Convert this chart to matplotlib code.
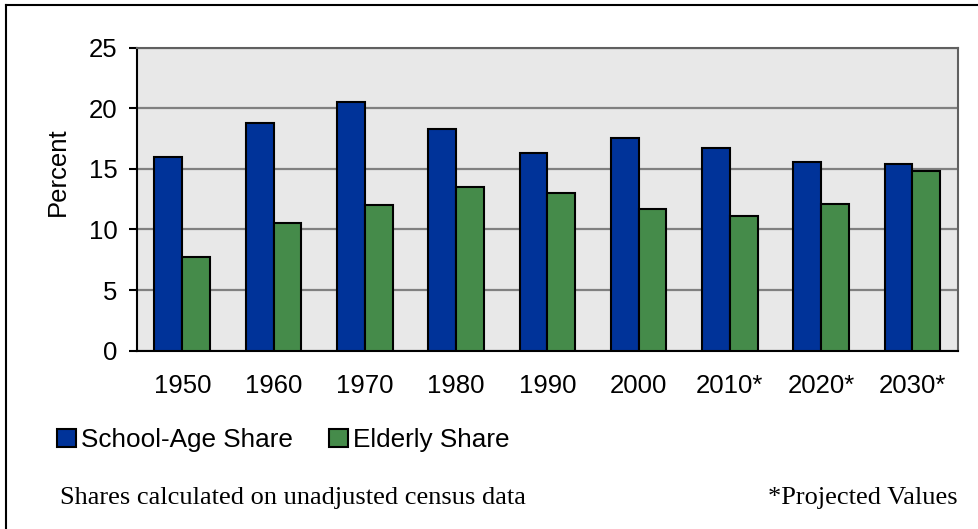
import matplotlib.pyplot as plt
import numpy as np
from matplotlib.lines import Line2D
from matplotlib.patches import Patch

years = ['1950', '1960', '1970', '1980', '1990', '2000', '2010*', '2020*', '2030*']
school_age = [16.0, 18.8, 20.5, 18.3, 16.3, 17.5, 16.7, 15.6, 15.4]
elderly = [7.7, 10.5, 12.0, 13.5, 13.0, 11.7, 11.1, 12.1, 14.8]

W, H = 979, 529
fig = plt.figure(figsize=(W / 100, H / 100), dpi=100)
ax = fig.add_axes([136.7 / W, 1 - 350.7 / H, (958 - 136.7) / W, (350.7 - 47.5) / H])

x = np.arange(len(years))
bw = 0.305
ax.bar(x - bw / 2, school_age, bw, color='#003399', edgecolor='black', linewidth=1.5, zorder=3)
ax.bar(x + bw / 2, elderly, bw, color='#458B4A', edgecolor='black', linewidth=1.5, zorder=3)

ax.set_facecolor('#E8E8E8')
ax.set_xlim(-0.5, len(years) - 0.5)
ax.set_ylim(0, 25)
ax.set_yticks([0, 5, 10, 15, 20, 25])
ax.yaxis.grid(True, color='#808080', linewidth=1.6, zorder=0)
ax.set_axisbelow(True)
for s in ['top', 'right']:
    ax.spines[s].set_color('#606060')
    ax.spines[s].set_linewidth(1.5)
for s in ['left', 'bottom']:
    ax.spines[s].set_color('black')
    ax.spines[s].set_linewidth(1.5)

ax.set_xticks(x)
ax.set_xticklabels(years)
ax.tick_params(axis='x', length=0, pad=17, labelsize=18.5)
ax.tick_params(axis='y', length=6, width=1.5, pad=8, labelsize=18.5)
for lab in ax.get_xticklabels() + ax.get_yticklabels():
    lab.set_family('Liberation Sans')

fig.text(58 / W, 1 - 172 / H, 'Percent', rotation=90, ha='center', va='center',
         fontsize=18.5, family='Liberation Sans')

# legend
handles = [Patch(facecolor='#003399', edgecolor='black', linewidth=1.5),
           Patch(facecolor='#458B4A', edgecolor='black', linewidth=1.5)]
fig.legend(handles, ['School-Age Share', 'Elderly Share'], loc='center left',
           bbox_to_anchor=(34 / W, 1 - 440 / H), ncol=2, frameon=False,
           prop={'family': 'Liberation Sans', 'size': 18.8},
           handlelength=0.7, handleheight=0.7, handletextpad=0.2, columnspacing=1.4)

fig.text(60 / W, 1 - 498 / H, 'Shares calculated on unadjusted census data',
         ha='left', va='center', fontsize=19, family='Liberation Serif')
fig.text(958 / W, 1 - 498 / H, '*Projected Values',
         ha='right', va='center', fontsize=19, family='Liberation Serif')

# outer frame (top and left edges visible)
fig.add_artist(Line2D([6.5 / W, 1], [1 - 4.5 / H, 1 - 4.5 / H], color='black', linewidth=1.5))
fig.add_artist(Line2D([6.5 / W, 6.5 / W], [0, 1 - 4.5 / H], color='black', linewidth=1.5))

fig.savefig('out.png', dpi=100)
